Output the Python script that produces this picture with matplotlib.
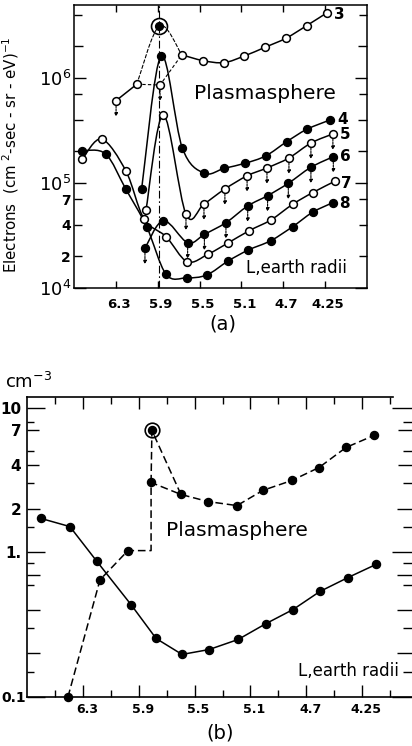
import numpy as np
import matplotlib
matplotlib.use("Agg")
import matplotlib.pyplot as plt
from matplotlib.path import Path
from matplotlib.patches import PathPatch
from matplotlib.transforms import ScaledTranslation

plt.rcParams['font.family'] = ['DejaVu Sans']
plt.rcParams['mathtext.fontset'] = 'dejavusans'

# ---------------- data: panel (a) ----------------
L_POS = [2, 4, 6, 8, 10, 12]
L_LABELS = ['6.3', '5.9', '5.5', '5.1', '4.7', '4.25']

s3_x = [2.01, 3.00, 4.11, 5.15, 6.18, 7.17, 8.14, 9.13, 10.13, 11.12, 12.10]
s3_y = [6.08e5, 8.71e5, 8.57e5, 1.66e6, 1.46e6, 1.40e6, 1.62e6, 1.96e6, 2.39e6, 3.15e6, 4.19e6]
peak_a_x = 4.08
peak_a_y = 3.13e6

s4_x = [3.23, 4.16, 5.17, 6.21, 7.18, 8.17, 9.16, 10.16, 11.12, 12.23]
s4_y = [8.71e4, 1.62e6, 2.17e5, 1.24e5, 1.38e5, 1.54e5, 1.81e5, 2.47e5, 3.24e5, 3.98e5]

s5_x = [3.44, 4.27, 5.35, 6.21, 7.21, 8.27, 9.22, 10.27, 11.32, 12.37]
s5_y = [5.53e4, 4.45e5, 5.04e4, 6.31e4, 8.77e4, 1.17e5, 1.39e5, 1.73e5, 2.40e5, 2.93e5]

s6_x = [3.39, 4.27, 5.43, 6.23, 7.26, 8.30, 9.25, 10.24, 11.32, 12.39]
s6_y = [2.39e4, 4.38e4, 2.70e4, 3.24e4, 4.19e4, 6.04e4, 7.57e4, 9.93e4, 1.41e5, 1.78e5]

s7_x = [0.40, 1.32, 2.48, 3.34, 4.40, 5.41, 6.42, 7.34, 8.38, 9.41, 10.45, 11.40, 12.47]
s7_y = [1.69e5, 2.62e5, 1.30e5, 4.57e4, 3.08e4, 1.78e4, 2.11e4, 2.67e4, 3.52e4, 4.45e4, 6.27e4, 8.09e4, 1.04e5]

s8_x = [0.40, 1.51, 2.48, 3.47, 4.40, 5.38, 6.34, 7.37, 8.33, 9.40, 10.45, 11.40, 12.36]
s8_y = [2.03e5, 1.89e5, 8.71e4, 3.84e4, 1.35e4, 1.25e4, 1.33e4, 1.81e4, 2.30e4, 2.82e4, 3.84e4, 5.26e4, 6.49e4]

arrows3 = [0, 2]
arrows5 = [2, 3, 4, 5, 6, 7, 8, 9]
arrows6 = [0, 2, 3, 4, 5, 6, 7, 8, 9]

A_YTICKS = [1e4, 2e4, 4e4, 7e4, 1e5, 2e5, 4e5, 7e5, 1e6, 2e6, 4e6]
A_YLABELS = ['$10^4$', '2', '4', '7', '$10^5$', '', '', '', '$10^6$', '', '']

# ---------------- data: panel (b) ----------------
b_solid_x = [0.49, 1.53, 2.50, 3.72, 4.62, 5.55, 6.52, 7.56, 8.56, 9.53, 10.49, 11.50, 12.50]
b_solid_y = [1.72, 1.51, 0.866, 0.436, 0.254, 0.197, 0.213, 0.25, 0.322, 0.403, 0.537, 0.671, 0.826]
b_dash_x = [1.46, 2.61, 3.61, 4.44, 5.51, 6.48, 7.52, 8.45, 9.49, 10.46, 11.43, 12.43]
b_dash_y = [0.1, 0.647, 1.03, 3.05, 2.52, 2.25, 2.11, 2.69, 3.15, 3.87, 5.33, 6.45]
b_peak_x = 4.47
b_peak_y = 6.98

B_YTICKS = [0.1, 0.15, 0.2, 0.3, 0.4, 0.6, 0.7, 0.85, 1, 1.5, 2, 3, 4, 5, 7, 8, 10]
B_YLABELS = ['0.1', '', '', '', '', '', '', '', '1.', '', '2', '', '4', '', '7', '', '10']


def px(v):
    return v * 0.72


def smooth_path(xs, ys):
    pts = np.column_stack([np.asarray(xs, float), np.log10(np.asarray(ys, float))])
    n = len(pts)
    verts = [pts[0]]
    codes = [Path.MOVETO]
    for i in range(n - 1):
        p0 = pts[i - 1] if i > 0 else pts[i]
        p1 = pts[i]
        p2 = pts[i + 1]
        p3 = pts[i + 2] if i + 2 < n else pts[i + 1]
        c1 = p1 + (p2 - p0) / 6.0
        c2 = p2 - (p3 - p1) / 6.0
        verts += [c1, c2, p2]
        codes += [Path.CURVE4] * 3
    verts = np.array(verts)
    verts[:, 1] = 10 ** verts[:, 1]
    return Path(verts, codes)


fig = plt.figure(figsize=(4.12, 7.46), dpi=100)

# ================= panel (a) =================
axA = fig.add_axes([74 / 412, (746 - 288) / 746, 293 / 412, 283 / 746])
axA.set_yscale('log')
axA.set_xlim(0, 14)
axA.set_ylim(1e4, 4.95e6)

LW = 1.1
MS = 5.6


def smooth(ax, xs, ys, ls='-', lw=LW):
    patch = PathPatch(smooth_path(xs, ys), fill=False, ec='black', lw=lw,
                      ls=ls, transform=ax.transData, capstyle='round', joinstyle='round')
    ax.add_patch(patch)


def markers(ax, xs, ys, filled):
    ax.plot(xs, ys, ls='none', marker='o', ms=MS, mec='black', mew=1.1,
            mfc='black' if filled else 'white', zorder=5, clip_on=False)


def arrows(ax, xs, ys, idx):
    for i in idx:
        ax.annotate('', xy=(xs[i], ys[i] * 10 ** (-16 / 105)), xytext=(xs[i], ys[i]),
                    arrowprops=dict(arrowstyle='-|>', lw=0.8, color='black',
                                    shrinkA=3.5, shrinkB=0, mutation_scale=5,
                                    linestyle=(0, (2, 1))), zorder=4)


# vertical dash-dot line at the peak
axA.axvline(peak_a_x, color='black', lw=0.8, ls=(0, (7, 2.5, 1.5, 2.5)), zorder=1)

# curve 3
axA.plot(s3_x[:2], s3_y[:2], color='black', lw=LW)
axA.plot(s3_x[1:4], s3_y[1:4], color='black', lw=0.8, ls=(0, (3, 2)))
smooth(axA, [s3_x[1], peak_a_x, s3_x[3]], [s3_y[1], peak_a_y, s3_y[3]], ls=(0, (3, 2)), lw=0.8)
smooth(axA, s3_x[3:], s3_y[3:])
markers(axA, s3_x, s3_y, False)
arrows(axA, s3_x, s3_y, arrows3)
axA.plot([peak_a_x], [peak_a_y], ls='none', marker='o', ms=MS, mfc='black', mec='black', zorder=6)
axA.plot([peak_a_x], [peak_a_y], ls='none', marker='o', ms=11.5, mfc='none', mec='black', mew=1.2, zorder=6)

for xs, ys, filled in [(s4_x, s4_y, True), (s5_x, s5_y, False), (s6_x, s6_y, True),
                       (s7_x, s7_y, False), (s8_x, s8_y, True)]:
    smooth(axA, xs, ys)
    markers(axA, xs, ys, filled)

arrows(axA, s5_x, s5_y, arrows5)
arrows(axA, s6_x, s6_y, arrows6)

# ticks
axA.set_xticks(L_POS, L_LABELS)
axA.xaxis.set_minor_locator(matplotlib.ticker.NullLocator())
axA.tick_params(axis='x', which='major', direction='in', top=True, bottom=True,
                length=px(7), width=1.0, pad=px(10))
for lab in axA.get_xticklabels():
    lab.set_fontsize(9.5)
    lab.set_fontweight('bold')
    lab.set_transform(lab.get_transform() + ScaledTranslation(3 / 100, 0, fig.dpi_scale_trans))

axA.set_yticks(A_YTICKS, A_YLABELS)
axA.yaxis.set_minor_locator(matplotlib.ticker.NullLocator())
axA.tick_params(axis='y', which='major', direction='in', left=True, right=True,
                width=1.0, pad=px(3))
A_TLEN = [12, 8, 8, 8, 12, 9, 9, 8, 12, 9, 8]
for t, L, lab in zip(axA.yaxis.get_major_ticks(), A_TLEN, A_YLABELS):
    t.tick1line.set_markersize(px(L))
    t.tick2line.set_markersize(px(L))
    if lab.startswith('$'):
        t.label1.set_fontsize(13)
    else:
        t.label1.set_fontsize(10)
        t.label1.set_fontweight('bold')

for sp in axA.spines.values():
    sp.set_linewidth(1.1)

axA.set_ylabel('Electrons  (cm $^{2}$-sec - sr - eV)$^{-1}$', fontsize=10.8)
axA.yaxis.set_label_coords(-0.18, 0.47)

axA.text(0.65, 0.668, 'Plasmasphere', transform=axA.transAxes, ha='center',
         va='baseline', fontsize=14.5)
axA.text(0.759, 0.052, 'L,earth radii', transform=axA.transAxes, ha='center',
         va='baseline', fontsize=12)
for s, xf, yf in [('3', 0.887, 0.965), ('4', 0.898, 0.594), ('5', 0.908, 0.541),
                  ('6', 0.908, 0.466), ('7', 0.911, 0.371), ('8', 0.904, 0.300)]:
    axA.text(xf, yf, s, transform=axA.transAxes, ha='left', va='center',
             fontsize=11, fontweight='bold')

fig.text(223 / 412, (746 - 324) / 746, '(a)', ha='center', va='center', fontsize=14)

# ================= panel (b) =================
axB = fig.add_axes([27.2 / 412, (746 - 697) / 746, (415 - 27.2) / 412, 300 / 746])
axB.set_yscale('log')
axB.set_xlim(0, (415 - 27.2) / 27.9)
axB.set_ylim(0.1, 11.9)

LWB = 1.1
MSB = 5.8
axB.plot(b_solid_x, b_solid_y, color='black', lw=LWB, marker='o', ms=MSB,
         mfc='black', mec='black', clip_on=False, zorder=4)

dash = (0, (5, 2.5))
line_x = b_dash_x[:3] + [b_dash_x[3]] + b_dash_x[3:]
line_y = b_dash_y[:3] + [b_dash_y[2]] + b_dash_y[3:]
axB.plot(line_x, line_y, color='black', lw=LWB, ls=dash, zorder=3, clip_on=False)
axB.plot([b_dash_x[3], b_peak_x, b_dash_x[4]], [b_dash_y[3], b_peak_y, b_dash_y[4]],
         color='black', lw=LWB, ls=dash, zorder=3)
axB.plot(b_dash_x, b_dash_y, ls='none', marker='o', ms=MSB, mfc='black', mec='black',
         clip_on=False, zorder=4)
axB.plot([b_peak_x], [b_peak_y], ls='none', marker='o', ms=MSB, mfc='black', mec='black', zorder=5)
axB.plot([b_peak_x], [b_peak_y], ls='none', marker='o', ms=10.5, mfc='none', mec='black',
         mew=1.2, zorder=5)

axB.set_xticks(L_POS, L_LABELS)
axB.set_xticks([1, 3, 5, 7, 9, 11, 13], minor=True)
axB.tick_params(axis='x', which='major', direction='in', top=True, bottom=True,
                length=px(12), width=1.0, pad=px(6))
axB.tick_params(axis='x', which='minor', direction='in', top=True, bottom=True,
                length=px(7), width=1.0)
for lab in axB.get_xticklabels():
    lab.set_fontsize(9)
    lab.set_fontweight('bold')
    lab.set_transform(lab.get_transform() + ScaledTranslation(4 / 100, 0, fig.dpi_scale_trans))

axB.set_yticks(B_YTICKS, B_YLABELS)
axB.yaxis.set_minor_locator(matplotlib.ticker.NullLocator())
axB.tick_params(axis='y', which='major', direction='in', left=True, right=True,
                width=1.0, pad=px(6), labelsize=11)
B_TLEN = [18, 7, 13, 7, 13, 7, 13, 7, 18, 7, 13, 7, 12, 7, 12, 7, 18]
for t, L, lab in zip(axB.yaxis.get_major_ticks(), B_TLEN, B_YLABELS):
    t.tick1line.set_markersize(px(L))
    t.tick2line.set_markersize(px(L + 5))
    t.label1.set_fontweight('bold')
    if lab == '0.1':
        t.label1.set_fontsize(10)
        t.label1.set_transform(t.label1.get_transform() +
                               ScaledTranslation(5 / 100, 0, fig.dpi_scale_trans))

for sp in axB.spines.values():
    sp.set_linewidth(1.2)
axB.spines['top'].set_bounds(0, 13.1)

axB.text(0.54, 0.537, 'Plasmasphere', transform=axB.transAxes, ha='center',
         va='baseline', fontsize=14.5)
axB.text(0.8285, 0.07, 'L,earth radii', transform=axB.transAxes, ha='center',
         va='baseline', fontsize=12)

fig.text(5 / 412, (746 - 382) / 746, 'cm$^{-3}$', ha='left', va='center', fontsize=13)
fig.text(220 / 412, (746 - 733) / 746, '(b)', ha='center', va='center', fontsize=14)

fig.savefig('out.png', dpi=100)
